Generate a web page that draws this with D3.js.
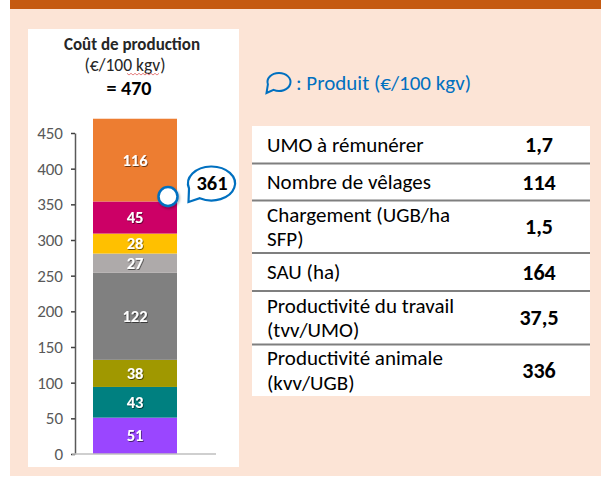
<!DOCTYPE html>
<html><head><meta charset="utf-8">
<script src="https://cdn.jsdelivr.net/npm/d3@7"></script>
<style>
body{margin:0;background:#fff;}
svg{display:block;font-family:Carlito, Lato, sans-serif;}
</style></head>
<body>
<svg id="c" width="601" height="477"></svg>
<script>
// ---- data ----
const segmentKeys = ["s1","s2","s3","s4","s5","s6","s7","s8"];
const segmentValues = [51, 43, 38, 122, 27, 28, 45, 116];
const segmentColors = ["#9A46FF","#008080","#A09800","#808080","#AEAAAA","#FFC000","#CC0066","#ED7D31"];
const totalCost = 470;
const produitValue = 361;
const yTicks = [0,50,100,150,200,250,300,350,400,450];
const tableLabels = [["UMO à rémunérer"],["Nombre de vêlages"],["Chargement (UGB/ha","SFP)"],["SAU (ha)"],["Productivité du travail","(tvv/UMO)"],["Productivité animale","(kvv/UGB)"]];
const tableValues = ["1,7","114","1,5","164","37,5","336"];

const svg = d3.select("#c");
const defs = svg.append("defs");
const sh = defs.append("filter").attr("id","ts").attr("x","-20%").attr("y","-20%").attr("width","140%").attr("height","140%");
sh.append("feDropShadow").attr("dx",0.8).attr("dy",1).attr("stdDeviation",0.6).attr("flood-color","#000").attr("flood-opacity",0.55);
const cs = defs.append("filter").attr("id","cs").attr("x","-50%").attr("y","-50%").attr("width","200%").attr("height","200%");
cs.append("feDropShadow").attr("dx",1).attr("dy",1.5).attr("stdDeviation",1.2).attr("flood-color","#000").attr("flood-opacity",0.35);

// backgrounds
svg.append("rect").attr("x",10).attr("y",0).attr("width",591).attr("height",476).attr("fill","#FCE4D6");
svg.append("rect").attr("x",10).attr("y",0).attr("width",591).attr("height",9).attr("fill","#C55A11");
svg.append("rect").attr("x",28).attr("y",29).attr("width",211).attr("height",438).attr("fill","#fff");

// title
svg.append("text").attr("x",132).attr("y",49.5).attr("text-anchor","middle").attr("font-weight","bold").attr("font-size",17).attr("fill","#262626").text("Coût de production");
svg.append("text").attr("x",125).attr("y",71).attr("text-anchor","middle").attr("font-size",17.5).attr("fill","#262626").text("(€/100 kgv)");
// spell-check squiggle under kgv
svg.append("path").attr("d", d3.range(127,161,2).map((x,i)=>(i?"L":"M")+x+","+(i%2?75:73.3)).join(""))
  .attr("fill","none").attr("stroke","#E06060").attr("stroke-width",0.8);
svg.append("text").attr("x",129).attr("y",95).attr("text-anchor","middle").attr("font-weight","bold").attr("font-size",20).attr("fill","#000").text("= " + totalCost);

// scales
const y = d3.scaleLinear().domain([0,450]).range([454,133]);
const x = d3.scaleBand().domain(["bar"]).range([93,177]).padding(0);

// axis
const axis = d3.axisLeft(y).tickValues(yTicks).tickSize(4).tickSizeOuter(0).tickPadding(8);
const ag = svg.append("g").attr("transform","translate(75,0)").call(axis);
ag.select(".domain").attr("stroke","#595959").attr("stroke-width",1.5);
ag.selectAll(".tick line").attr("stroke","#404040").attr("stroke-width",1.5);
ag.selectAll(".tick text").attr("fill","#595959").attr("font-size",17).attr("font-family","Carlito, Lato, sans-serif");

// stacked segments
let acc = 0;
const segs = segmentValues.map((v,i)=>{const s={key:segmentKeys[i],y0:acc,y1:acc+v,v,color:segmentColors[i]}; acc+=v; return s;});
svg.append("g").selectAll("rect").data(segs).join("rect")
  .attr("x", x("bar")).attr("width", x.bandwidth())
  .attr("y", d=>y(d.y1)).attr("height", d=>y(d.y0)-y(d.y1))
  .attr("fill", d=>d.color);
svg.append("g").selectAll("text").data(segs).join("text")
  .attr("x", x("bar")+x.bandwidth()/2).attr("y", d=>y((d.y0+d.y1)/2)+5.5)
  .attr("text-anchor","middle").attr("font-weight","bold").attr("font-size",16.5).attr("fill","#fff")
  .attr("filter","url(#ts)").text(d=>d.v);

// baseline
svg.append("line").attr("x1",72).attr("x2",216).attr("y1",y(0)).attr("y2",y(0)).attr("stroke","#BFBFBF").attr("stroke-width",1.5);

// speech bubble helper
function bubblePath(cx,cy,rx,ry,tipX,tipY,a1,a2){
  const p1=[cx+rx*Math.cos(a1),cy+ry*Math.sin(a1)];
  const p2=[cx+rx*Math.cos(a2),cy+ry*Math.sin(a2)];
  return `M${p1[0]},${p1[1]} L${tipX},${tipY} L${p2[0]},${p2[1]} A${rx},${ry} 0 1 0 ${p1[0]},${p1[1]} Z`;
}
const deg = Math.PI/180;
// produit marker
const py = y(produitValue);
svg.append("path").attr("d", bubblePath(211.5, py-13, 23.5, 17, 188.5, py+5.5, 163*deg, 120*deg))
  .attr("fill","#fff").attr("stroke","#0070C0").attr("stroke-width",2.2).attr("stroke-linejoin","miter");
svg.append("text").attr("x",212).attr("y",py-6).attr("text-anchor","middle").attr("font-weight","bold").attr("font-size",20.5).attr("fill","#000").text(produitValue);
svg.append("circle").attr("cx",168).attr("cy",py).attr("r",9.5).attr("fill","#fff").attr("stroke","#0070C0").attr("stroke-width",2.5).attr("filter","url(#cs)");

// legend
svg.append("path").attr("d", bubblePath(279, 82, 11.5, 9, 266.5, 93, 165*deg, 118*deg))
  .attr("fill","none").attr("stroke","#0070C0").attr("stroke-width",2);
svg.append("text").attr("x",296).attr("y",89.5).attr("font-size",21).attr("fill","#0070C0").text(": Produit (€/100 kgv)");

// table
const rowBounds = [126,163.5,200.5,253,291,344.5,396];
svg.append("rect").attr("x",252).attr("y",126).attr("width",338).attr("height",270).attr("fill","#fff");
const rows = svg.append("g").selectAll("g").data(tableLabels).join("g");
rows.each(function(lines,i){
  const g=d3.select(this);
  const top=rowBounds[i], bot=rowBounds[i+1], mid=(top+bot)/2;
  const n=lines.length, lh=24.5;
  lines.forEach((t,j)=>{
    g.append("text").attr("x",267).attr("y", mid + (j-(n-1)/2)*lh + 7)
      .attr("font-size",21).attr("fill","#000").text(t);
  });
  g.append("text").attr("x",539).attr("y",mid+7.5).attr("text-anchor","middle")
    .attr("font-weight","bold").attr("font-size",22).attr("fill","#000").text(tableValues[i]);
  if(i>0) g.append("line").attr("x1",252).attr("x2",590).attr("y1",top).attr("y2",top).attr("stroke","#7F7F7F").attr("stroke-width",2);
});
</script>
</body></html>
